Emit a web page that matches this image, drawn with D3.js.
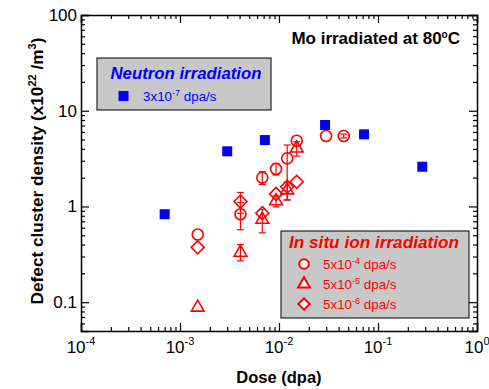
<!DOCTYPE html>
<html lang="en">
<head>
    <title>Mo defect cluster density</title>
    <script src="https://d3js.org/d3.v7.min.js"></script>
    <style>
        body { margin: 0; background: #fff; }
        text { font-family: "Liberation Sans", Arial, sans-serif; }
    </style>
</head>
<body>
  <svg width=489 height=389></svg>
    <script>
        // neutron irradiation, 3x10^-7 dpa/s
        let neutronDose = [7.0e-4, 3.0e-3, 7.2e-3, 0.0292, 0.0723, 0.28];
        let neutronDensity = [0.83, 3.77, 4.94, 7.09, 5.67, 2.60];

        // in situ ion irradiation doses
        let ionDose = [1.51e-3, 4.08e-3, 6.78e-3, 9.33e-3, 0.0121, 0.0151, 0.0299, 0.0451];

        // 5x10^-4 dpa/s (circles)
        let circleDensity = [0.51, 0.83, 2.0, 2.46, 3.18, 4.86, 5.44, 5.44];
        let circleLow  = [null, 0.57, 1.70, 2.13, 1.17, null, null, 5.2];
        let circleHigh = [null, 1.10, 2.31, 2.82, 4.38, null, null, 5.7];

        // 5x10^-5 dpa/s (triangles)
        let triDensity = [0.088, 0.33, 0.73, 1.14, 1.48, 4.05];
        let triLow  = [null, 0.27, 0.53, 0.99, 1.17, 3.36];
        let triHigh = [null, 0.40, 0.93, 1.29, 1.79, 4.74];

        // 5x10^-6 dpa/s (diamonds)
        let diaDensity = [0.374, 1.125, 0.85, 1.35, 1.61, 1.81];
        let diaLow  = [null, 0.85, null, null, null, null];
        let diaHigh = [null, 1.40, null, null, null, null];

        let xMajor = [1e-4, 1e-3, 1e-2, 1e-1, 1];
        let xExp = ["-4", "-3", "-2", "-1", "0"];
        let yMajor = [0.1, 1, 10, 100];
        let yLabels = ["0.1", "1", "10", "100"];

        const svg = d3.select("svg");
        const pl = 81, pr = 477, pt = 15, pb = 331;

        const x = d3.scaleLog().domain([1e-4, 1]).range([pl, pr]);
        const y = d3.scaleLog().domain([0.05, 100]).range([pb, pt]);

        const red = "#ff0000", blue = "#0000ff";

        // minor ticks
        const xMinor = x.ticks().filter(v => !xMajor.some(m => Math.abs(m - v) / m < 1e-6));
        const yMinor = y.ticks().filter(v => !yMajor.some(m => Math.abs(m - v) / m < 1e-6));

        function drawAxis(gen, pos, major, minor) {
            let g = svg.append("g").attr("transform", pos);
            g.call(gen.tickValues(major).tickSize(-8).tickFormat(""));
            let g2 = svg.append("g").attr("transform", pos);
            g2.call(gen.tickValues(minor).tickSize(-4).tickFormat(""));
            g2.select(".domain").remove();
        }
        drawAxis(d3.axisBottom(x), `translate(0,${pb})`, xMajor, xMinor);
        drawAxis(d3.axisTop(x), `translate(0,${pt})`, xMajor, xMinor);
        drawAxis(d3.axisLeft(y), `translate(${pl},0)`, yMajor, yMinor);
        drawAxis(d3.axisRight(y), `translate(${pr},0)`, yMajor, yMinor);
        svg.selectAll(".domain").attr("stroke-width", 1.5).attr("stroke", "#000");
        svg.selectAll(".tick line").attr("stroke-width", 1.2).attr("stroke", "#000");

        // tick labels
        xMajor.forEach((v, i) => {
            let t = svg.append("text").attr("x", x(v)).attr("y", 353)
                .attr("text-anchor", "middle").attr("font-size", 17);
            t.append("tspan").text("10");
            t.append("tspan").attr("dy", -8).attr("font-size", 11).text(xExp[i]);
        });
        yMajor.forEach((v, i) => {
            svg.append("text").attr("x", 77).attr("y", y(v) + 6)
                .attr("text-anchor", "end").attr("font-size", 17).text(yLabels[i]);
        });

        // axis titles
        svg.append("text").attr("x", 279).attr("y", 383).attr("text-anchor", "middle")
            .attr("font-size", 16.5).attr("font-weight", "bold").text("Dose (dpa)");
        let yl = svg.append("text").attr("transform", "translate(43,171) rotate(-90)")
            .attr("text-anchor", "middle").attr("font-size", 17.2).attr("font-weight", "bold");
        yl.append("tspan").text("Defect cluster density (x10");
        yl.append("tspan").attr("dy", -7).attr("font-size", 11).text("22");
        yl.append("tspan").attr("dy", 7).text(" /m");
        yl.append("tspan").attr("dy", -7).attr("font-size", 11).text("3");
        yl.append("tspan").attr("dy", 7).text(")");

        // plot title
        let tt = svg.append("text").attr("x", 460).attr("y", 44).attr("text-anchor", "end")
            .attr("font-size", 17).attr("font-weight", "bold");
        tt.append("tspan").text("Mo irradiated at 80");
        tt.append("tspan").attr("dy", -6).attr("font-size", 10).text("o");
        tt.append("tspan").attr("dy", 6).text("C");

        // legend boxes
        svg.append("rect").attr("x", 97).attr("y", 58).attr("width", 174).attr("height", 52)
            .attr("fill", "#c8c8c8").attr("stroke", "#000").attr("stroke-width", 1);
        svg.append("text").attr("x", 186).attr("y", 79).attr("text-anchor", "middle")
            .attr("font-size", 16.8).attr("font-weight", "bold").attr("font-style", "italic")
            .attr("fill", blue).text("Neutron irradiation");
        svg.append("rect").attr("x", 118.5).attr("y", 91).attr("width", 10).attr("height", 10).attr("fill", blue);
        let nl = svg.append("text").attr("x", 143).attr("y", 101).attr("font-size", 13.4).attr("fill", blue);
        nl.append("tspan").text("3x10");
        nl.append("tspan").attr("dy", -5).attr("font-size", 9).text("-7");
        nl.append("tspan").attr("dy", 5).text(" dpa/s");

        svg.append("rect").attr("x", 281).attr("y", 231).attr("width", 188).attr("height", 87)
            .attr("fill", "#c8c8c8").attr("stroke", "#000").attr("stroke-width", 1);
        svg.append("text").attr("x", 374).attr("y", 247.5).attr("text-anchor", "middle")
            .attr("font-size", 17.2).attr("font-weight", "bold").attr("font-style", "italic")
            .attr("fill", red).text("In situ ion irradiation");

        const circleSym = d3.symbol(d3.symbolCircle, Math.PI * 5.5 * 5.5);
        const triSym = d3.symbol(d3.symbolTriangle, 70);
        const diaSym = d3.symbol(d3.symbolSquare, 84);
        const squareSym = d3.symbol(d3.symbolSquare, 100);

        let legendRows = [
            { sym: d3.symbol(d3.symbolCircle, Math.PI * 4.8 * 4.8), rot: 0, exp: "-4" },
            { sym: d3.symbol(d3.symbolTriangle, 60), rot: 0, exp: "-5" },
            { sym: d3.symbol(d3.symbolSquare, 64), rot: 45, exp: "-6" }
        ];
        legendRows.forEach((r, i) => {
            let cy = 264 + i * 20;
            svg.append("path").attr("d", r.sym())
                .attr("transform", `translate(304,${cy}) rotate(${r.rot})`)
                .attr("fill", "#fff").attr("stroke", red).attr("stroke-width", 2);
            let t = svg.append("text").attr("x", 323).attr("y", cy + 5).attr("font-size", 13.4).attr("fill", red);
            t.append("tspan").text("5x10");
            t.append("tspan").attr("dy", -5).attr("font-size", 9).text(r.exp);
            t.append("tspan").attr("dy", 5).text(" dpa/s");
        });

        // error bars
        function errorBars(vals, lo, hi) {
            let d = vals.map((v, i) => ({ dose: ionDose[i], lo: lo[i], hi: hi[i] })).filter(e => e.lo !== null);
            let g = svg.append("g").attr("stroke", red).attr("stroke-width", 1.2);
            g.selectAll("line.v").data(d).enter().append("line")
                .attr("x1", e => x(e.dose)).attr("x2", e => x(e.dose))
                .attr("y1", e => y(e.lo)).attr("y2", e => y(e.hi));
            ["lo", "hi"].forEach(k => {
                g.selectAll("line." + k).data(d).enter().append("line")
                    .attr("x1", e => x(e.dose) - 3.5).attr("x2", e => x(e.dose) + 3.5)
                    .attr("y1", e => y(e[k])).attr("y2", e => y(e[k]));
            });
        }
        errorBars(circleDensity, circleLow, circleHigh);
        errorBars(triDensity, triLow, triHigh);
        errorBars(diaDensity, diaLow, diaHigh);

        function markers(vals, sym, rot) {
            svg.append("g").selectAll("path").data(vals).enter().append("path")
                .attr("d", sym())
                .attr("transform", (v, i) => `translate(${x(ionDose[i])},${y(v)}) rotate(${rot})`)
                .attr("fill", "none").attr("stroke", red).attr("stroke-width", 1.6);
        }
        markers(diaDensity, diaSym, 45);
        markers(triDensity, triSym, 0);
        markers(circleDensity, circleSym, 0);

        svg.append("g").selectAll("path").data(neutronDensity).enter().append("path")
            .attr("d", squareSym())
            .attr("transform", (v, i) => `translate(${x(neutronDose[i])},${y(v)})`)
            .attr("fill", blue);
    </script>
</body>
</html>
